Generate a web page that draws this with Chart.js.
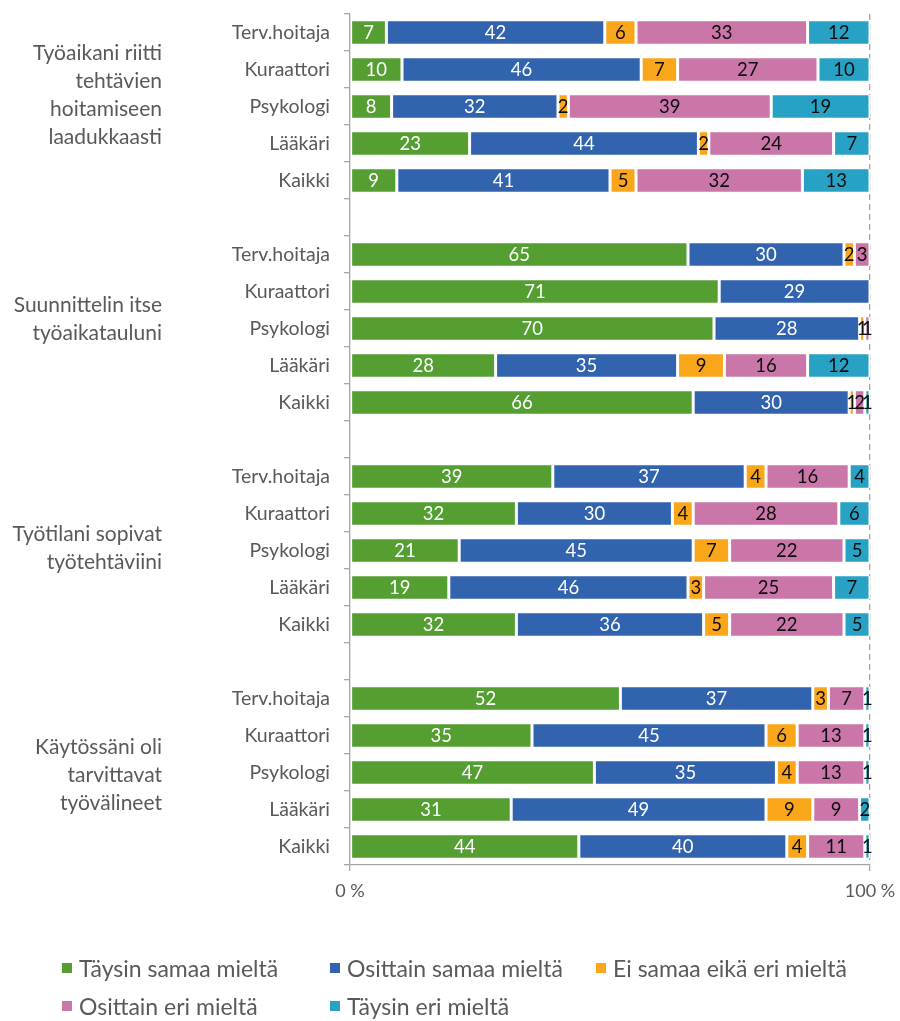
<!DOCTYPE html>
<html>
<head>
<meta charset="utf-8">
<script src="https://cdn.jsdelivr.net/npm/chart.js@4/dist/chart.umd.min.js"></script>
<style>
  html, body { margin: 0; padding: 0; background: #fff; }
  #wrap { position: relative; width: 900px; height: 1021px; }
  #chart { position: absolute; left: 0; top: 0; }
  #legend {
    position: absolute; left: 62px; top: 955px;
    display: grid; grid-template-columns: 268px 266px auto; row-gap: 12px;
    font-family: Lato, "Noto Sans", sans-serif; font-size: 23px; color: #595959;
  }
  #legend .item { display: flex; align-items: center; height: 26px; white-space: nowrap; }
  #legend .box { width: 10px; height: 10px; margin-right: 7px; flex: none; }
</style>
</head>
<body>
<div id="wrap">
  <canvas id="chart" width="900" height="1021"></canvas>
  <div id="legend"></div>
</div>
<script>
// Respondent groups shown for every statement
const roles = ['Terv.hoitaja', 'Kuraattori', 'Psykologi', 'Lääkäri', 'Kaikki'];

// Statements (multi-line group labels on the left)
const statements = [
  ['Työaikani riitti', 'tehtävien', 'hoitamiseen', 'laadukkaasti'],
  ['Suunnittelin itse', 'työaikatauluni'],
  ['Työtilani sopivat', 'työtehtäviini'],
  ['Käytössäni oli', 'tarvittavat', 'työvälineet']
];

// Answer options
const seriesNames = ['Täysin samaa mieltä', 'Osittain samaa mieltä', 'Ei samaa eikä eri mieltä', 'Osittain eri mieltä', 'Täysin eri mieltä'];
const seriesColors = ['#549E32', '#3163AE', '#F9A61A', '#CA76A8', '#27A1C4'];

// Percentages, statement by statement, roles in the order above
const taysinSamaa   = [7, 10, 8, 23, 9,    65, 71, 70, 28, 66,   39, 32, 21, 19, 32,   52, 35, 47, 31, 44];
const osittainSamaa = [42, 46, 32, 44, 41, 30, 29, 28, 35, 30,   37, 30, 45, 46, 36,   37, 45, 35, 49, 40];
const eiSamaaEikaEri= [6, 7, 2, 2, 5,      2, 0, 1, 9, 1,        4, 4, 7, 3, 5,        3, 6, 4, 9, 4];
const osittainEri   = [33, 27, 39, 24, 32, 3, 0, 1, 16, 2,       16, 28, 22, 25, 22,   7, 13, 13, 9, 11];
const taysinEri     = [12, 10, 19, 7, 13,  0, 0, 0, 12, 1,       4, 6, 5, 7, 5,        1, 1, 1, 2, 1];

// Value axis tick labels
const tickLabels = { 0: '0 %', 100: '100 %' };

const seriesValues = [taysinSamaa, osittainSamaa, eiSamaaEikaEri, osittainEri, taysinEri];
const labelTextColors = ['#ffffff', '#ffffff', '#0d0d0d', '#0d0d0d', '#0d0d0d'];

// Build category list with an empty row between statements
const categories = [];
const groupRanges = [];
const rowIndex = [];
statements.forEach((s, g) => {
  if (g > 0) { categories.push(''); rowIndex.push(null); }
  const start = categories.length;
  roles.forEach((r, i) => { categories.push(r); rowIndex.push(g * roles.length + i); });
  groupRanges.push([start, categories.length - 1]);
});

const datasets = seriesNames.map((name, s) => ({
  label: name,
  data: rowIndex.map(i => (i === null ? null : seriesValues[s][i])),
  backgroundColor: seriesColors[s],
  borderColor: '#ffffff',
  borderWidth: { top: 0.5, bottom: 0.5, left: 1.5, right: 1.5 },
  borderSkipped: false,
  barPercentage: 0.64,
  categoryPercentage: 1
}));

const FONT = 'Lato, "Noto Sans", sans-serif';
const GRAY = '#595959';
const AXIS = '#A6A6A6';

// Value labels centred in each segment
const segmentLabels = {
  id: 'segmentLabels',
  afterDatasetsDraw(chart) {
    const ctx = chart.ctx;
    ctx.save();
    ctx.font = '18.5px ' + FONT;
    ctx.textAlign = 'center';
    ctx.textBaseline = 'middle';
    chart.data.datasets.forEach((ds, di) => {
      const meta = chart.getDatasetMeta(di);
      meta.data.forEach((bar, i) => {
        const v = ds.data[i];
        if (v === null || v === 0) return;
        ctx.fillStyle = labelTextColors[di];
        ctx.fillText(String(v), (bar.x + bar.base) / 2, bar.y + 1);
      });
    });
    ctx.restore();
  }
};

// Statement labels to the left of the role labels
const groupNudge = [-11, -9, -2, 3];
const statementLabels = {
  id: 'statementLabels',
  afterDraw(chart) {
    const ctx = chart.ctx;
    const y = chart.scales.y;
    const lineH = 28;
    ctx.save();
    ctx.font = '21px ' + FONT;
    ctx.fillStyle = GRAY;
    ctx.textAlign = 'right';
    ctx.textBaseline = 'middle';
    statements.forEach((lines, g) => {
      const [a, b] = groupRanges[g];
      const cy = (y.getPixelForValue(a) + y.getPixelForValue(b)) / 2 + groupNudge[g];
      const top = cy - (lines.length - 1) * lineH / 2;
      lines.forEach((t, k) => ctx.fillText(t, 162, top + k * lineH));
    });
    ctx.restore();
  }
};

new Chart(document.getElementById('chart'), {
  type: 'bar',
  data: { labels: categories, datasets },
  plugins: [segmentLabels, statementLabels],
  options: {
    indexAxis: 'y',
    responsive: false,
    animation: false,
    layout: { padding: { left: 0, right: 30, top: 14, bottom: 116 } },
    plugins: { legend: { display: false }, tooltip: { enabled: false } },
    scales: {
      x: {
        type: 'linear', stacked: true, min: 0, max: 100,
        afterFit(scale) {
          scale.height = 40;
          scale.paddingLeft = 0;
          scale.paddingRight = 0;
        },
        ticks: {
          stepSize: 100, padding: 9,
          color: GRAY, font: { family: FONT, size: 18 },
          callback: v => tickLabels[v] ?? ''
        },
        grid: {
          color: c => (c.tick && c.tick.value === 100 ? AXIS : 'rgba(0,0,0,0)'),
          tickColor: AXIS, tickLength: 6, lineWidth: 1.3
        },
        border: { color: AXIS, dash: [6, 4], width: 1.3 }
      },
      y: {
        type: 'category', stacked: true,
        afterFit(scale) {
          scale.width = 350;
          scale.paddingTop = 0;
          scale.paddingBottom = 0;
        },
        ticks: {
          autoSkip: false, padding: 14,
          color: GRAY, font: { family: FONT, size: 19.5 }
        },
        grid: { drawOnChartArea: false, offset: true, tickLength: 6, color: AXIS, lineWidth: 1.3 },
        border: { color: AXIS, width: 1.3, z: 1 }
      }
    }
  }
});

// HTML legend
const legend = document.getElementById('legend');
seriesNames.forEach((name, s) => {
  const item = document.createElement('div');
  item.className = 'item';
  const box = document.createElement('span');
  box.className = 'box';
  box.style.background = seriesColors[s];
  const txt = document.createElement('span');
  txt.textContent = name;
  item.appendChild(box);
  item.appendChild(txt);
  legend.appendChild(item);
});
</script>
</body>
</html>
